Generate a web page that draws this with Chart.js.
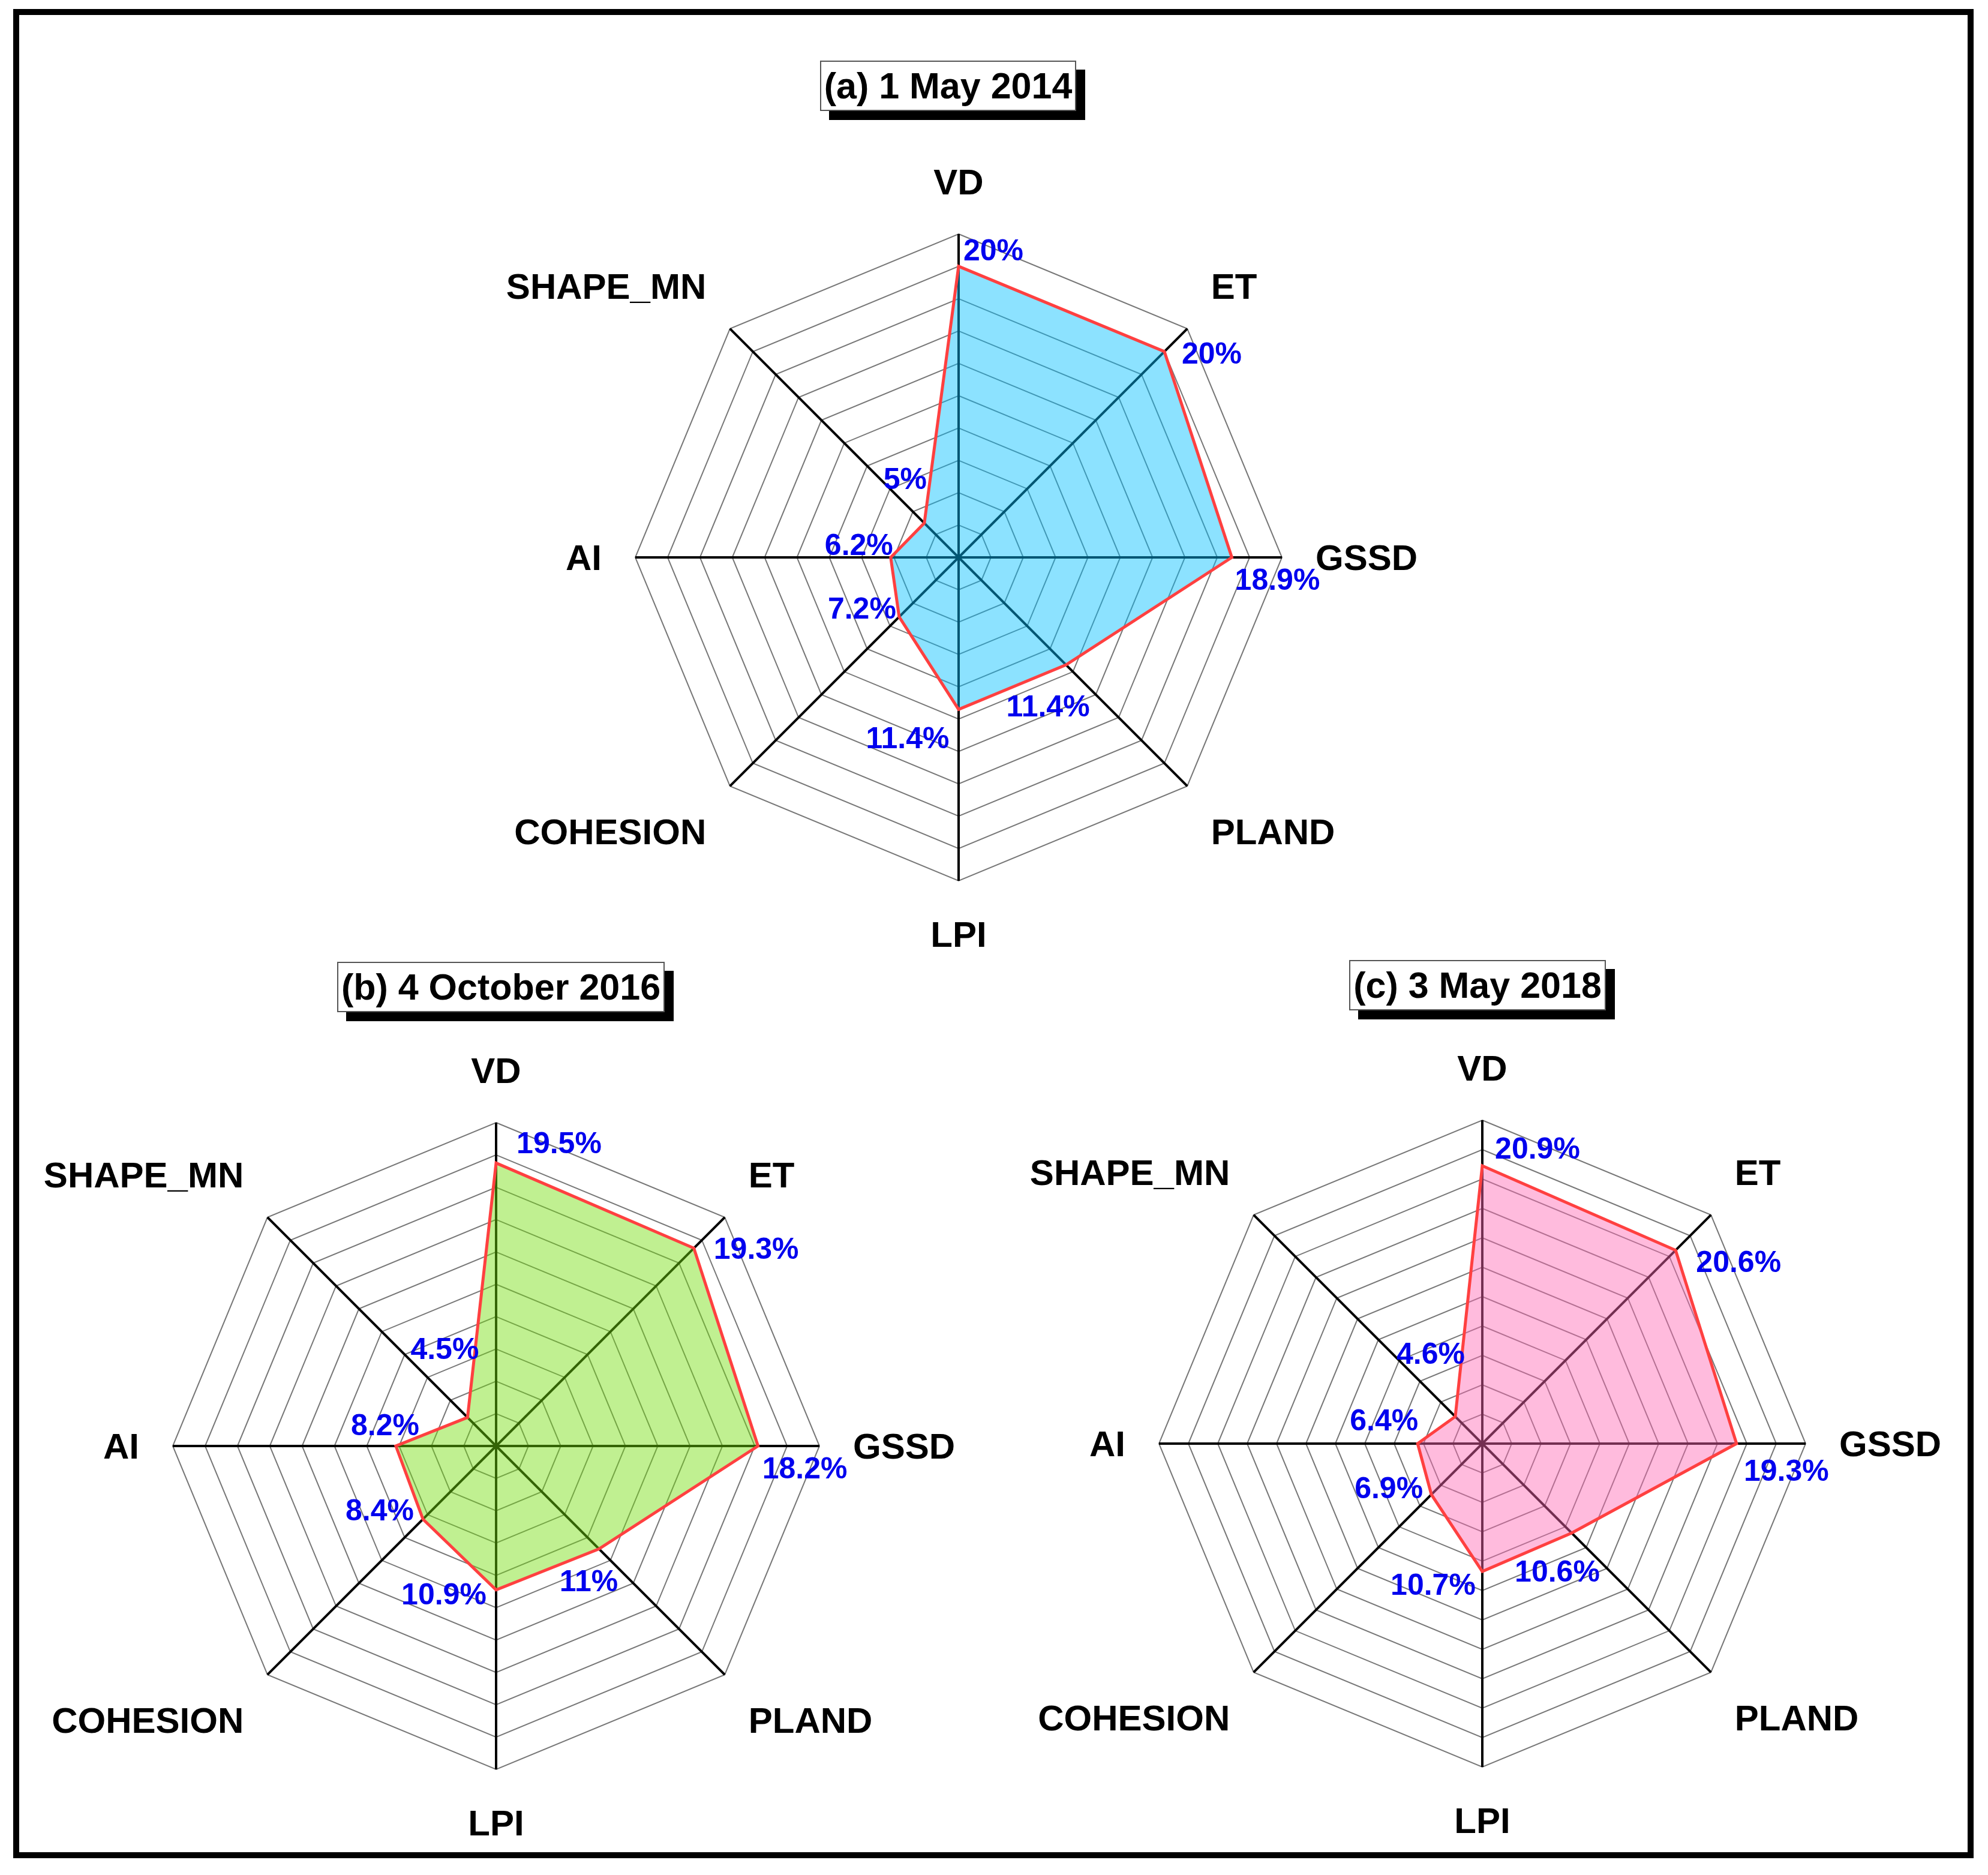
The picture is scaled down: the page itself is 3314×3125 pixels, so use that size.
<!DOCTYPE html>
<html>
<head>
<meta charset="utf-8">
<script src="https://cdn.jsdelivr.net/npm/chart.js@4/dist/chart.umd.min.js"></script>
<style>
  body { margin: 0; background: #fff; }
  #page {
    position: relative;
    width: 3314px;
    height: 3125px;
    overflow: hidden;
    font-family: "Liberation Sans", Arial, sans-serif;
  }
  #frame {
    position: absolute;
    left: 22px;
    top: 15px;
    width: 3268px;
    height: 3082px;
    border: 10px solid #000;
    box-sizing: border-box;
  }
  canvas { position: absolute; left: 0; top: 0; }
  .title {
    position: absolute;
    height: 84px;
    box-sizing: border-box;
    border: 2px solid #555;
    background: #fff;
    box-shadow: 15px 15px 0 #000;
    font-weight: bold;
    font-size: 61px;
    line-height: 80px;
    text-align: center;
    white-space: nowrap;
    z-index: 5;
  }
</style>
</head>
<body>
<div id="page">
  <div id="frame"></div>
  <canvas id="chart-a" width="3314" height="3125"></canvas>
  <canvas id="chart-b" width="3314" height="3125"></canvas>
  <canvas id="chart-c" width="3314" height="3125"></canvas>
  <div class="title" style="left:1367px; top:101px; width:427px;">(a) 1 May 2014</div>
  <div class="title" style="left:562px; top:1603px; width:546px;">(b) 4 October 2016</div>
  <div class="title" style="left:2249px; top:1600px; width:428px;">(c) 3 May 2018</div>
</div>

<script>
"use strict";

// Axis names, clockwise from the top
const axisNames = ["VD", "ET", "GSSD", "PLAND", "LPI", "COHESION", "AI", "SHAPE_MN"];

// Values (%)
const values2014 = [20, 20, 18.9, 11.4, 11.4, 7.2, 6.2, 5];
const values2016 = [19.5, 19.3, 18.2, 11, 10.9, 8.4, 8.2, 4.5];
const values2018 = [20.9, 20.6, 19.3, 10.6, 10.7, 6.9, 6.4, 4.6];

// Radial range: the rings go in steps of 2 from 2 up to the max
const scaleMin = 2;
const scaleStep = 2;
const scaleMax2014 = 22;
const scaleMax2016 = 22;
const scaleMax2018 = 24;

// Where each percentage label sits relative to its vertex (px, text centre)
const shift2014 = [[58, -28], [79, 2], [76, 36], [-30, 68], [-85, 47], [-62, -15], [-53, -22], [-32, -75]];
const shift2016 = [[105, -34], [104, 0], [78, 36], [-17, 52], [-87, 6], [-72, -16], [-18, -36], [-38, -115]];
const shift2018 = [[92, -30], [105, 18], [83, 44], [-24, 63], [-82, 21], [-71, -12], [-56, -40], [-41, -106]];

const FONT = '"Liberation Sans", Arial, sans-serif';

/*
  Draws the axis names and the blue percentage labels.
  Axis names are placed the way Chart.js places point labels,
  but with a fixed gap so the radius stays where we want it.
*/
const labelPlugin = {
  id: "radarLabels",
  afterDatasetsDraw(chart, args, opts) {
    const scale = chart.scales.r;
    const ctx = chart.ctx;
    const names = chart.data.labels;
    const n = names.length;

    ctx.save();
    ctx.font = "bold 60px " + FONT;
    ctx.fillStyle = "#000";
    ctx.textBaseline = "alphabetic";
    for (let i = 0; i < n; i++) {
      const p = scale.getPointPosition(i, scale.drawingArea + 56);
      const deg = Math.round(i * 360 / n);
      let align = "center";
      if (deg > 0 && deg < 180) align = "left";
      else if (deg > 180) align = "right";

      let y = p.y - 10;
      if (deg === 90 || deg === 270) y = p.y + 21;
      else if (deg === 180) y = p.y + 54;
      else if (deg > 90 && deg < 270) y = p.y + 57;

      ctx.textAlign = align;
      ctx.fillText(names[i], p.x, y);
    }

    // percentages next to each vertex
    const data = chart.data.datasets[0].data;
    const meta = chart.getDatasetMeta(0);
    ctx.font = "bold 50px " + FONT;
    ctx.fillStyle = "#0000ee";
    ctx.textAlign = "center";
    meta.data.forEach((pt, i) => {
      const s = opts.shift[i];
      ctx.fillText(data[i] + "%", pt.x + s[0], pt.y + s[1] + 18);
    });
    ctx.restore();
  }
};

const PAGE_W = 3314;
const PAGE_H = 3125;
const RADIUS = 539;

const makeRadar = (id, values, fillColour, maxValue, cx, cy, shift) => {
  const config = {
    type: "radar",
    data: {
      labels: axisNames,
      datasets: [{
        data: values,
        backgroundColor: fillColour,
        borderColor: "#ff4040",
        borderWidth: 5,
        pointRadius: 0,
        fill: true,
      }],
    },
    options: {
      responsive: false,
      animation: false,
      devicePixelRatio: 1,
      layout: {
        padding: {
          left: cx - RADIUS,
          top: cy - RADIUS,
          right: PAGE_W - cx - RADIUS,
          bottom: PAGE_H - cy - RADIUS,
        },
      },
      plugins: {
        legend: { display: false },
        tooltip: { enabled: false },
        radarLabels: { shift: shift },
      },
      scales: {
        r: {
          min: scaleMin,
          max: maxValue,
          ticks: { display: false, stepSize: scaleStep },
          grid: { color: "#777", lineWidth: 2 },
          angleLines: { color: "#000", lineWidth: 4 },
          pointLabels: { display: false },
        },
      },
    },
    plugins: [labelPlugin],
  };
  return new Chart(document.getElementById(id), config);
};

makeRadar("chart-a", values2014, "rgba(0, 191, 255, 0.45)", scaleMax2014, 1598, 929, shift2014);
makeRadar("chart-b", values2016, "rgba(115, 222, 10, 0.45)", scaleMax2016, 827, 2410, shift2016);
makeRadar("chart-c", values2018, "rgba(255, 105, 180, 0.45)", scaleMax2018, 2471, 2406, shift2018);
</script>
</body>
</html>
